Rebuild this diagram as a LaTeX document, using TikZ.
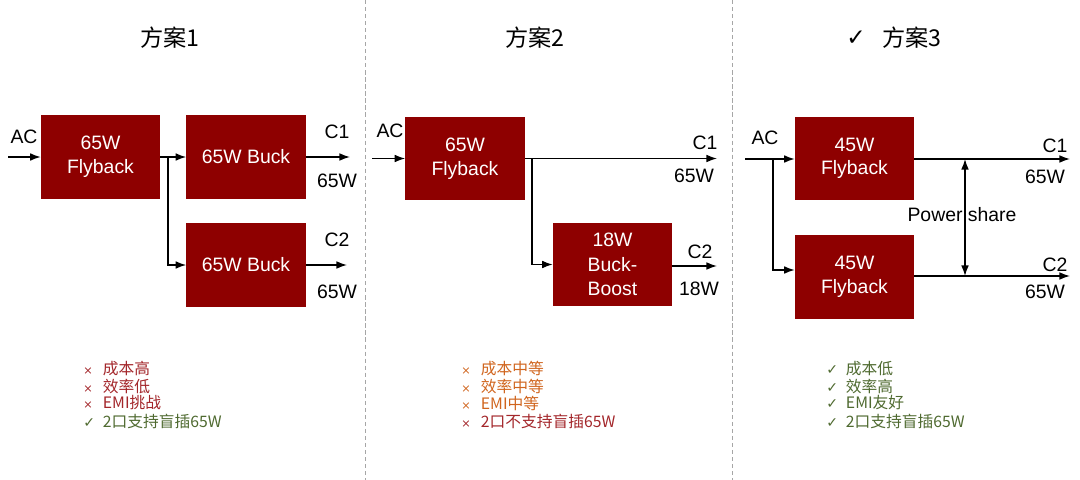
\documentclass[tikz,border=0pt]{standalone}
\usepackage{fontspec}
\setmainfont{Liberation Sans}
\newfontfamily\cjk{Noto Sans CJK SC}
\newfontfamily\symfont{DejaVu Sans}
\usepackage{tikz}
\usetikzlibrary{arrows.meta,positioning,calc}
\definecolor{boxred}{HTML}{8E0000}
\definecolor{badred}{HTML}{A3262A}
\definecolor{midorange}{HTML}{D0651E}
\definecolor{goodgreen}{HTML}{4F6A30}
\newcommand{\badmark}{\makebox[14pt][l]{\symfont\fontsize{8}{10}\selectfont ×}}
\newcommand{\goodmark}{\makebox[14pt][l]{\symfont\fontsize{10}{12}\selectfont ✓}}

\begin{document}
\begin{tikzpicture}[x=0.025cm, y=-0.025cm, >={Latex[length=7.5pt,width=5.5pt]},
  box/.style={fill=boxred, text=white, minimum width=2.975cm, minimum height=2.08cm, align=center, inner sep=0pt, font=\fontsize{13.8}{16.8}\selectfont},
  lbl/.style={inner sep=0pt, font=\fontsize{13.8}{15}\selectfont},
  heading/.style={inner sep=0pt, font=\cjk\fontsize{16.5}{20}\selectfont},
  item/.style={anchor=west, inner sep=0pt, font=\cjk\fontsize{11.2}{13}\selectfont},
  wire/.style={line width=1pt},
  sep/.style={black!35, dash pattern=on 3pt off 2pt}]
  \useasboundingbox (0,0) rectangle (1080,480);

  % separators
  \coordinate (d1t) at (365,0); \coordinate (d1b) at (365,480);
  \coordinate (d2t) at (732,0); \coordinate (d2b) at (732,480);
  \draw[sep] (d1t) -- (d1b);
  \draw[sep] (d2t) -- (d2b);

  % titles
  \node[heading] (t1) at (170,38) {方案1};
  \node[heading] (t2) at (535,38) {方案2};
  \node[heading] (ok3) at (856,38) {\symfont ✓};
  \node[heading] (t3) at (912,38) {方案3};

  % scheme 1
  \node[box] (fly1) at (100.5,157) {65W\\Flyback};
  \node[box] (buck1a) at (246,157) {65W Buck};
  \node[box] (buck1b) at (246,265) {65W Buck};
  \coordinate (ac1) at (8,157);
  \coordinate (br1) at (168,157);
  \coordinate (out1a) at (350,157);
  \coordinate (out1b) at (347,265);
  \node[lbl] (aclbl1) at (24,137) {AC};
  \draw[wire, ->] (ac1) -- (fly1);
  \draw[wire, ->] (fly1) -- (buck1a);
  \draw[wire, ->] (br1) |- (buck1b);
  \draw[wire, ->] (buck1a) -- (out1a);
  \draw[wire, ->] (buck1b) -- (out1b);
  \node[lbl] (c1a) at (337,132) {C1};
  \node[lbl] (p1a) at (337,181) {65W};
  \node[lbl] (c1b) at (337,240) {C2};
  \node[lbl] (p1b) at (337,292) {65W};

  % scheme 2
  \node[box] (fly2) at (465,158.5) {65W\\Flyback};
  \node[box, font=\fontsize{13.8}{17.4}\selectfont] (bb2) at (612.5,264.5) {18W\\Buck-\\Boost};
  \coordinate (ac2) at (372,158.5);
  \coordinate (br2) at (532,158.5);
  \coordinate (out2a) at (717,158.5);
  \coordinate (out2b) at (717,266);
  \node[lbl] (aclbl2) at (390,131) {AC};
  \draw[wire, ->] (ac2) -- (fly2);
  \draw[wire, ->] (fly2) -- (out2a);
  \draw[wire, ->] (br2) |- (bb2);
  \draw[wire, ->] (bb2.east |- out2b) -- (out2b);
  \node[lbl] (c2a) at (705,143) {C1};
  \node[lbl] (p2a) at (694,176) {65W};
  \node[lbl] (c2b) at (700,252) {C2};
  \node[lbl] (p2b) at (699,289) {18W};

  % scheme 3
  \node[box] (fly3a) at (854.5,158.5) {45W\\Flyback};
  \node[box] (fly3b) at (854.5,277) {45W\\Flyback};
  \coordinate (ac3) at (745,159);
  \coordinate (br3) at (773,159);
  \coordinate (out3a) at (1070,159);
  \coordinate (out3b) at (1070,276);
  \coordinate (ps1) at (965,159);
  \coordinate (ps2) at (965,276);
  \node[lbl] (aclbl3) at (765,138) {AC};
  \draw[wire, ->] (ac3) -- (fly3a.west |- ac3);
  \draw[wire, ->] (br3) |- ($(fly3b.west)+(0,-7)$);
  \draw[wire, ->] (fly3a.east |- out3a) -- (out3a);
  \draw[wire, ->] (fly3b.east |- out3b) -- (out3b);
  \draw[wire, <->] (ps1) -- (ps2);
  \node[lbl] (pslbl) at (962,215) {Power share};
  \node[lbl] (c3a) at (1055,146) {C1};
  \node[lbl] (p3a) at (1045,177) {65W};
  \node[lbl] (c3b) at (1055,265) {C2};
  \node[lbl] (p3b) at (1045,292) {65W};

  % pros and cons
  \node[item, text=badred] (s1a) at (83,369) {\badmark 成本高};
  \node[item, text=badred] (s1b) at (83,386) {\badmark 效率低};
  \node[item, text=badred] (s1c) at (83,403) {\badmark EMI挑战};
  \node[item, text=goodgreen] (s1d) at (83,421) {\goodmark 2口支持盲插65W};

  \node[item, text=midorange] (s2a) at (461,369) {\badmark 成本中等};
  \node[item, text=midorange] (s2b) at (461,386) {\badmark 效率中等};
  \node[item, text=midorange] (s2c) at (461,403) {\badmark EMI中等};
  \node[item, text=badred] (s2d) at (461,421) {\badmark 2口不支持盲插65W};

  \node[item, text=goodgreen] (s3a) at (826,369) {\goodmark 成本低};
  \node[item, text=goodgreen] (s3b) at (826,386) {\goodmark 效率高};
  \node[item, text=goodgreen] (s3c) at (826,403) {\goodmark EMI友好};
  \node[item, text=goodgreen] (s3d) at (826,421) {\goodmark 2口支持盲插65W};
\end{tikzpicture}
\end{document}
